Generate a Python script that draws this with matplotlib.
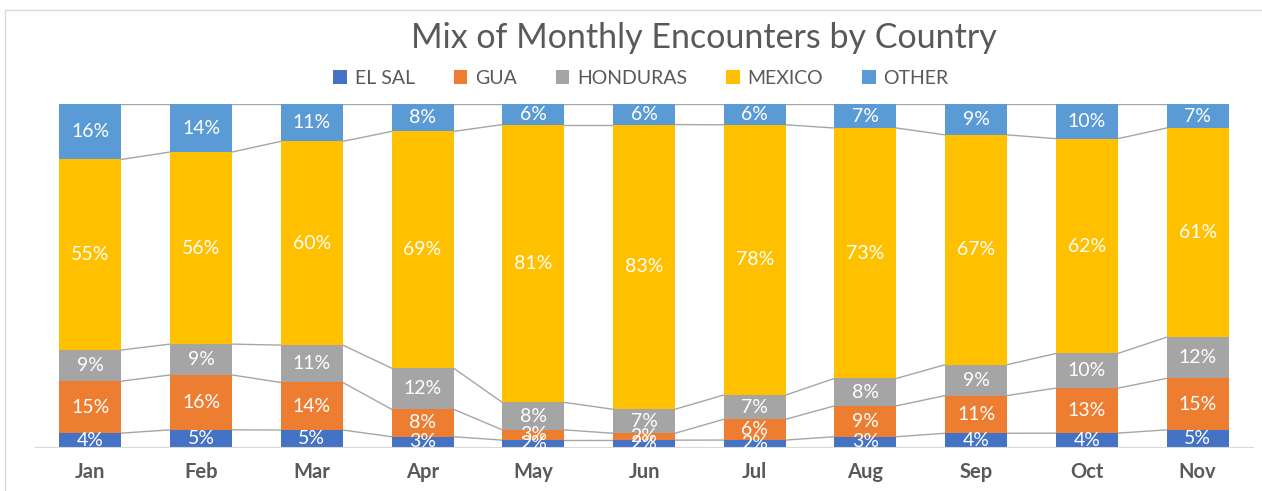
import numpy as np
import matplotlib.pyplot as plt
from matplotlib.patches import Rectangle

months = ["Jan", "Feb", "Mar", "Apr", "May", "Jun", "Jul", "Aug", "Sep", "Oct", "Nov"]
series_names = ["EL SAL", "GUA", "HONDURAS", "MEXICO", "OTHER"]
el_sal = [4, 5, 5, 3, 2, 2, 2, 3, 4, 4, 5]
gua = [15, 16, 14, 8, 3, 2, 6, 9, 11, 13, 15]
honduras = [9, 9, 11, 12, 8, 7, 7, 8, 9, 10, 12]
mexico = [55, 56, 60, 69, 81, 83, 78, 73, 67, 62, 61]
other = [16, 14, 11, 8, 6, 6, 6, 7, 9, 10, 7]
colors = ["#4472C4", "#ED7D31", "#A5A5A5", "#FFC000", "#5B9BD5"]

plt.rcParams['font.family'] = ['Lato', 'DejaVu Sans']

data = np.array([el_sal, gua, honduras, mexico, other], dtype=float)
shares = data / data.sum(axis=0)
x = np.arange(len(months))
width = 0.56

fig = plt.figure(figsize=(12.62, 4.91), dpi=100)
ax = fig.add_axes([35 / 1262, 44 / 491, 1218 / 1262, 343 / 491])

bottom = np.zeros(len(months))
for name, vals, share, col in zip(series_names, data, shares, colors):
    ax.bar(x, share, width, bottom=bottom, color=col, label=name, zorder=2)
    for xi, b, s, v in zip(x, bottom, share, vals):
        ax.text(xi, b + s / 2, f"{int(v)}%", ha='center', va='center',
                color='white', fontsize=14, zorder=3)
    bottom = bottom + share
    # series lines between adjacent bars
    for i in range(len(months) - 1):
        ax.plot([x[i] + width / 2, x[i + 1] - width / 2], [bottom[i], bottom[i + 1]],
                color='#A6A6A6', lw=1, zorder=1)

ax.set_xlim(-0.5, len(months) - 0.5)
ax.set_ylim(0, 1)
ax.set_yticks([])
ax.set_xticks(x)
ax.set_xticklabels(months, fontsize=14.5, fontweight='bold', color='#595959')
ax.tick_params(axis='x', length=0, pad=11)
for sp in ['top', 'right', 'left']:
    ax.spines[sp].set_visible(False)
ax.spines['bottom'].set_color('#D9D9D9')

# title sits a bit right of centre in the original
fig.text(704 / 1262, 1 - 38 / 491, "Mix of Monthly Encounters by Country", ha='center', va='center',
         fontsize=24.5, color='#595959')
ax.legend(loc='center', bbox_to_anchor=(641 / 1262, 1 - 78 / 491), bbox_transform=fig.transFigure,
          ncol=5, frameon=False, fontsize=14, handlelength=0.7, handleheight=0.7,
          columnspacing=2.0, handletextpad=0.4, labelcolor='#595959')

# chart frame
fig.patches.append(Rectangle((5 / 1262, -0.1), 1.5, 1 - 10 / 491 + 0.1, transform=fig.transFigure,
                             fill=False, edgecolor='#D9D9D9', lw=1))

fig.savefig("out.png", dpi=100)
